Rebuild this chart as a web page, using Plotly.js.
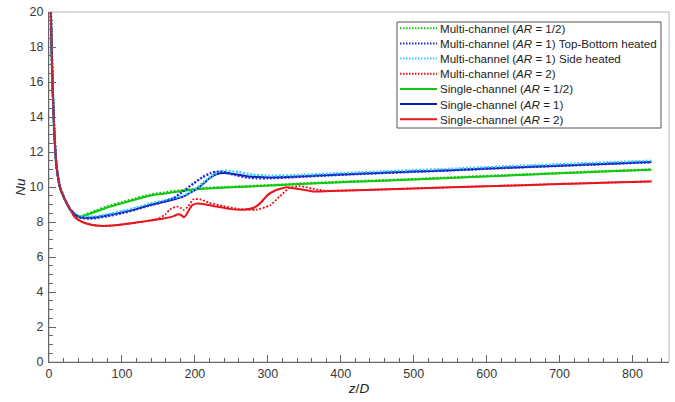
<!DOCTYPE html>
<html>
<head>
<meta charset="utf-8">
<script src="https://cdn.plot.ly/plotly-3.0.1.min.js"></script>
<style>html,body{margin:0;padding:0;background:#fff;}#chart{width:675px;height:402px;}</style>
</head>
<body>
<div id="chart"></div>
<script>
// ---- data (z/D vs Nu) ----
const entryZ  = [1, 2.3, 3.7, 5.1, 7.3, 10.5, 15, 22, 29];
const entryNu = [28, 20.5, 17.8, 15.6, 13.1, 11.1, 10.0, 9.26, 8.72];

const multiHalfZ  = [35, 42, 50, 65, 80, 100, 120, 138, 157, 180, 207, 250, 303, 385, 450, 500, 550, 625, 700, 760, 826];
const multiHalfNu = [8.45, 8.3, 8.42, 8.66, 8.9, 9.13, 9.36, 9.56, 9.68, 9.8, 9.92, 10.01, 10.1, 10.27, 10.37, 10.45, 10.54, 10.67, 10.8, 10.9, 11.0];

const multiOneTBZ  = [35, 40, 45, 55, 65, 80, 100, 120, 138, 157, 170, 184, 198, 210, 222, 230, 240, 255, 275, 300, 340, 385, 450, 500, 550, 625, 700, 760, 826];
const multiOneTBNu = [8.45, 8.3, 8.22, 8.2, 8.23, 8.33, 8.5, 8.72, 8.95, 9.15, 9.35, 9.75, 10.2, 10.55, 10.8, 10.88, 10.85, 10.68, 10.52, 10.5, 10.57, 10.67, 10.79, 10.87, 10.95, 11.09, 11.21, 11.31, 11.42];

const multiOneSideZ  = [35, 40, 45, 55, 65, 80, 100, 120, 138, 157, 170, 184, 198, 210, 222, 232, 243, 260, 280, 303, 340, 385, 450, 500, 550, 625, 700, 760, 826];
const multiOneSideNu = [8.47, 8.35, 8.3, 8.3, 8.33, 8.44, 8.62, 8.83, 9.05, 9.22, 9.35, 9.5, 9.8, 10.2, 10.6, 10.85, 10.93, 10.85, 10.7, 10.65, 10.68, 10.77, 10.88, 10.96, 11.04, 11.18, 11.3, 11.4, 11.5];

const multiTwoZ  = [35, 42, 50, 60, 70, 88, 111, 134, 150, 160, 166, 175, 180, 184, 190, 198, 207, 220, 240, 260, 284, 303, 316, 330, 344, 360, 371, 385, 481, 625, 700, 760, 826];
const multiTwoNu = [8.3, 8.08, 7.93, 7.83, 7.78, 7.8, 7.92, 8.06, 8.2, 8.45, 8.72, 8.88, 8.82, 8.69, 8.85, 9.3, 9.3, 9.1, 8.9, 8.75, 8.7, 8.95, 9.45, 9.95, 10.05, 9.92, 9.83, 9.78, 9.9, 10.08, 10.18, 10.25, 10.33];

const singleHalfZ  = [35, 42, 50, 65, 80, 100, 120, 138, 157, 180, 207, 250, 303, 385, 450, 500, 550, 625, 700, 760, 826];
const singleHalfNu = [8.45, 8.3, 8.38, 8.6, 8.83, 9.07, 9.3, 9.5, 9.62, 9.76, 9.89, 9.98, 10.08, 10.25, 10.35, 10.43, 10.52, 10.65, 10.78, 10.88, 10.98];

const singleOneZ  = [35, 40, 45, 55, 65, 80, 100, 120, 138, 157, 172, 184, 195, 207, 220, 230, 240, 257, 275, 303, 340, 385, 450, 500, 550, 625, 700, 760, 826];
const singleOneNu = [8.45, 8.32, 8.26, 8.24, 8.27, 8.38, 8.55, 8.75, 8.97, 9.15, 9.3, 9.45, 9.7, 10.02, 10.5, 10.74, 10.8, 10.72, 10.6, 10.55, 10.6, 10.69, 10.8, 10.88, 10.96, 11.1, 11.22, 11.32, 11.43];

const singleTwoZ  = [35, 42, 50, 60, 70, 88, 111, 134, 157, 170, 177, 181, 185, 188, 191, 196, 202, 215, 230, 248, 266, 280, 289, 300, 310, 325, 340, 362, 385, 481, 625, 700, 760, 826];
const singleTwoNu = [8.3, 8.08, 7.93, 7.83, 7.78, 7.8, 7.92, 8.05, 8.2, 8.32, 8.45, 8.4, 8.27, 8.4, 8.62, 8.95, 9.05, 9.0, 8.88, 8.75, 8.7, 8.8, 9.05, 9.55, 9.8, 9.98, 9.9, 9.75, 9.77, 9.89, 10.07, 10.17, 10.24, 10.32];

const seriesNames = [
  'Multi-channel (<i>AR</i> = 1/2)',
  'Multi-channel (<i>AR</i> = 1) Top-Bottom heated',
  'Multi-channel (<i>AR</i> = 1) Side heated',
  'Multi-channel (<i>AR</i> = 2)',
  'Single-channel (<i>AR</i> = 1/2)',
  'Single-channel (<i>AR</i> = 1)',
  'Single-channel (<i>AR</i> = 2)'
];
const xTickVals = [0, 100, 200, 300, 400, 500, 600, 700, 800];
const yTickVals = [0, 2, 4, 6, 8, 10, 12, 14, 16, 18, 20];

// ---- styles ----
const seriesZ  = [multiHalfZ, multiOneTBZ, multiOneSideZ, multiTwoZ, singleHalfZ, singleOneZ, singleTwoZ];
const seriesNu = [multiHalfNu, multiOneTBNu, multiOneSideNu, multiTwoNu, singleHalfNu, singleOneNu, singleTwoNu];
const colors = ['#12c812', '#1f2fd6', '#35cdf2', '#e8141c', '#12c812', '#0c1cb0', '#e8141c'];
const dashes = ['2px,1.6px', '2px,1.6px', '2px,1.6px', '2px,1.6px', 'solid', 'solid', 'solid'];
const widths = [2.4, 2.4, 2.4, 1.8, 2, 2, 2];
const drawOrder = [4, 5, 6, 0, 2, 1, 3];

const traces = drawOrder.map(i => ({
  type: 'scatter', mode: 'lines',
  x: entryZ.concat(seriesZ[i]),
  y: entryNu.concat(seriesNu[i]),
  name: seriesNames[i],
  showlegend: false,
  line: {color: colors[i], width: widths[i], dash: dashes[i], shape: 'spline', smoothing: 0.5},
  hoverinfo: 'skip'
}));

// ---- layout geometry (pixels) ----
const W = 675, H = 402, ML = 49, MR = 6, MT = 12, MB = 40;
const pX = px => (px - ML) / (W - ML - MR);
const pY = py => (H - MB - py) / (H - MT - MB);

const shapes = [
  {type: 'rect', xref: 'paper', yref: 'paper', x0: 0, x1: 1, y0: 0, y1: 1,
   line: {color: '#b4b4b4', width: 1}, layer: 'below'},
  {type: 'rect', xref: 'paper', yref: 'paper', x0: pX(397), x1: pX(661), y0: pY(128), y1: pY(22),
   line: {color: '#555', width: 1}, fillcolor: '#fff', layer: 'above'}
];
const annotations = [];
const rowY0 = 28.3, rowStep = 15.15;
seriesNames.forEach((nm, i) => {
  const py = rowY0 + i * rowStep;
  shapes.push({type: 'line', xref: 'paper', yref: 'paper', x0: pX(400), x1: pX(437), y0: pY(py), y1: pY(py),
    line: {color: colors[i], width: 2, dash: i < 4 ? '1.5px,1.5px' : 'solid'}, layer: 'above'});
  annotations.push({xref: 'paper', yref: 'paper', x: pX(438), y: pY(py), xanchor: 'left', yanchor: 'middle',
    text: nm, showarrow: false, font: {family: 'Liberation Sans, Arial, sans-serif', size: 11.6, color: '#222'}});
});

const tickFont = {family: 'Liberation Sans, Arial, sans-serif', size: 12.5, color: '#3a3a3a'};
const titleFont = {family: 'Liberation Sans, Arial, sans-serif', size: 13.5, color: '#222'};
const layout = {
  width: W, height: H,
  margin: {l: ML, r: MR, t: MT, b: MB, pad: 0},
  paper_bgcolor: '#fff', plot_bgcolor: '#fff',
  showlegend: false,
  xaxis: {
    range: [0, 850], tickvals: xTickVals, ticks: 'inside', ticklen: 7, tickcolor: '#666', tickwidth: 1,
    minor: {dtick: 20, tick0: 0, ticks: 'inside', ticklen: 4, tickcolor: '#666', showgrid: false},
    showline: true, linecolor: '#666', linewidth: 1, showgrid: false, zeroline: false,
    tickfont: tickFont, ticklabelstandoff: 0,
    title: {text: '<i>z</i>/<i>D</i>', font: titleFont, standoff: 1}
  },
  yaxis: {
    range: [0, 20], tickvals: yTickVals, ticks: 'inside', ticklen: 7, tickcolor: '#666', tickwidth: 1,
    minor: {dtick: 0.5, tick0: 0, ticks: 'inside', ticklen: 4, tickcolor: '#666', showgrid: false},
    showline: true, linecolor: '#666', linewidth: 1, showgrid: false, zeroline: false,
    tickfont: tickFont, ticklabelstandoff: 2,
    title: {text: '<i>Nu</i>', font: titleFont, standoff: 0}
  },
  shapes: shapes,
  annotations: annotations
};

Plotly.newPlot('chart', traces, layout, {displayModeBar: false, staticPlot: true});
</script>
</body>
</html>
